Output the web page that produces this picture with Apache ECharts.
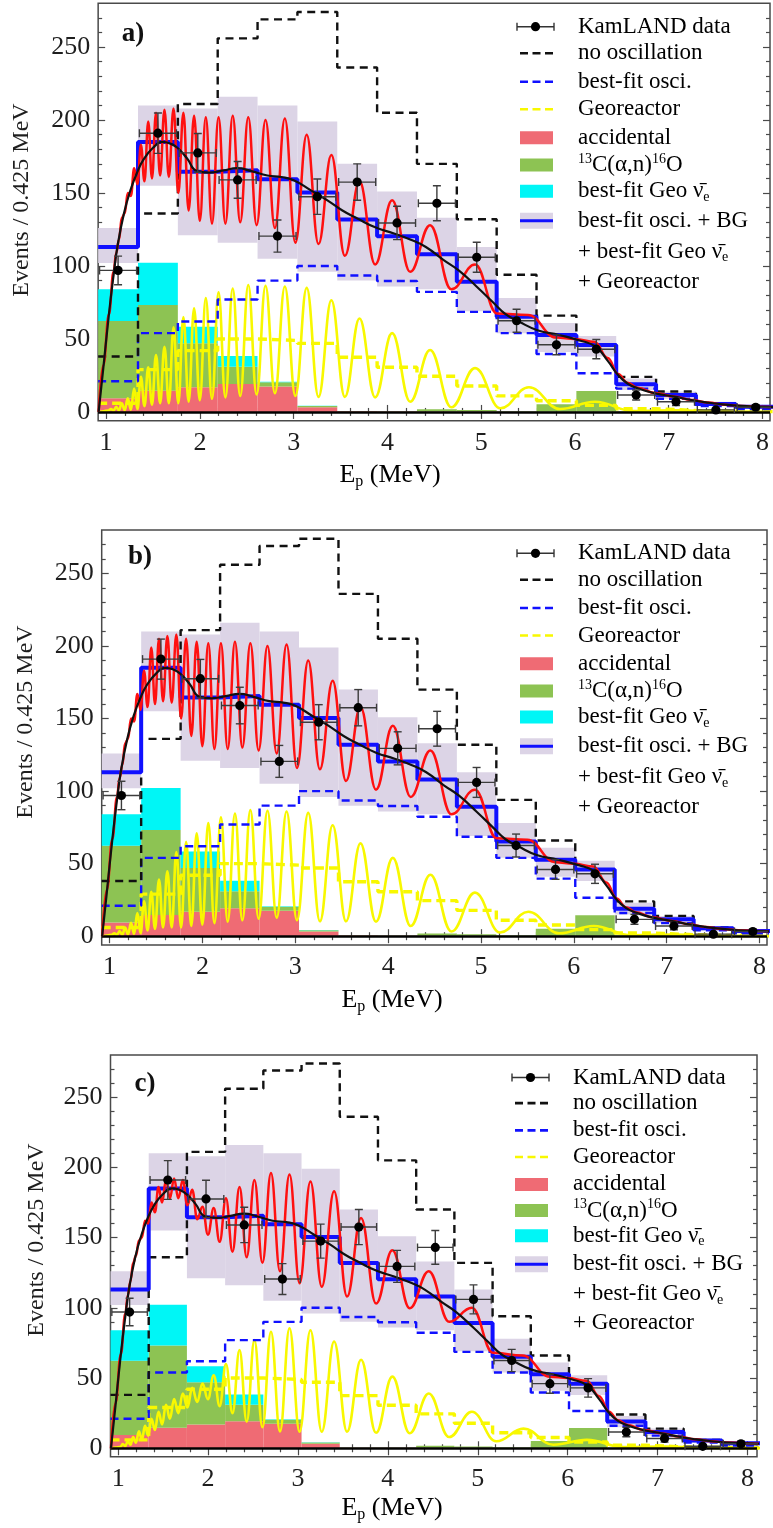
<!DOCTYPE html>
<html><head><meta charset="utf-8">
<script src="https://cdn.jsdelivr.net/npm/echarts@6/dist/echarts.min.js"></script>
<style>html,body{margin:0;padding:0;background:#fff}#c{width:773px;height:1528px}</style>
</head><body><div id="c"></div>
<script>
// ---------------- data ----------------
const binEdges = [0.915,1.34,1.765,2.19,2.615,3.04,3.465,3.89,4.315,4.74,5.165,5.59,6.015,6.44,6.865,7.29,7.715,8.14];
const dataE      = [1.1275,1.5525,1.9775,2.4025,2.8275,3.2525,3.6775,4.1025,4.5275,4.9525,5.3775,5.8025,6.2275,6.6525,7.0775,7.5025,7.9275];
const dataCounts = [97,191,177.5,159,120.5,147.5,157.5,129.5,143,106,62.5,46,43,11.6,7,1.4,3.2];
const dataErr    = [9.8,13.8,13.3,12.6,11,12.1,12.5,11.4,12,10.3,7.9,6.8,6.6,3.4,2.6,1.2,1.8];
const noOsc          = [38,136,211,256,269,274,236,205,170,132,94,66,46,24,14,6,3];
const bestFitOsc     = [21,54,62,77,90,100,93.5,89.7,82.3,68.6,54,39.7,26.5,16,9,4,2];
const totalFit       = [113,185,164.5,165.6,159.5,150.4,131.9,120.4,108.1,89.2,65.2,52.7,45.9,19,11.6,5.5,3.6];
const georeactorStep = [6,29,42,50,49,47,37.5,30.6,24.5,17.8,11,7.7,4.5,2.2,1,0.5,0.3];
const accidental = [9.4,14.6,16.9,19.2,17.5,3.2,0.4,0.3,0.3,0.3,0.2,0.2,0.2,0.1,0,0,0];
const c13an      = [52.9,58.6,30.1,11.8,2.8,0.9,0.2,0.2,1.5,1.0,0.3,5,14.2,0.3,0,0,0];
const geoNu      = [21.7,29,11.4,7.3,0.4,0.1,0,0,0,0,0,0,0,0,0,0,0];
const bandLow  = [102,155,121,116,105,96,90,86,84,69,54,41,38,15,9,4,2];
const bandHigh = [126,210,208,216,210,199,170,151,133,113,78,61,52,23,14,7,4.5];
const blackCurve = [[0.92,0],[0.97,30],[1.03,67],[1.08,94],[1.12,113],[1.19,136],[1.26,152],[1.33,164],[1.4,173],[1.5,181],[1.6,185],[1.68,184],[1.76,181],[1.86,174],[1.97,165],[2.1,164],[2.25,165.5],[2.4,167],[2.55,165],[2.72,162],[2.87,161],[3.0,158.8],[3.18,152],[3.36,145],[3.52,138],[3.68,132.5],[3.87,126.5],[4.07,122.3],[4.25,118],[4.41,113],[4.6,104],[4.76,97],[4.95,86],[5.12,75.5],[5.26,67],[5.4,62],[5.6,56],[5.83,52.7],[6.05,49],[6.22,44.7],[6.35,35],[6.46,25.3],[6.56,19.5],[6.67,16.2],[6.85,12.8],[7.06,10.5],[7.24,8.2],[7.42,6.4],[7.6,5],[7.77,4.1],[7.95,3.6],[8.14,3.2]];
const redA = [[0.92,0],[0.97,32],[1.03,67],[1.079,96],[1.108,109],[1.137,118],[1.167,133],[1.198,136],[1.231,150],[1.264,148],[1.299,167],[1.334,156],[1.371,183],[1.409,158],[1.449,199],[1.489,160],[1.532,205],[1.576,162],[1.622,207],[1.669,161],[1.719,208],[1.770,150],[1.824,205],[1.880,138],[1.938,203],[1.999,131],[2.063,202],[2.129,129],[2.199,202],[2.272,129],[2.350,203],[2.430,130],[2.516,202],[2.605,128],[2.700,200],[2.800,126],[2.906,201],[3.018,116],[3.139,190],[3.265,115],[3.402,176],[3.546,107],[3.702,158],[3.869,101],[4.050,145],[4.243,96],[4.455,128],[4.682,84],[4.934,101],[5.170,67.5],[5.500,66.5],[5.800,51],[6.000,50],[6.210,48],[6.350,37],[6.460,26],[6.560,20],[6.670,16.5],[6.850,13],[7.060,10.5],[7.240,8.2],[7.420,6.4],[7.600,5],[7.770,4.1],[7.950,3.6],[8.140,3.2]];
const yellowA = [[0.93,0],[0.973,0.5],[1.025,1],[1.051,2],[1.079,1],[1.108,3.5],[1.137,1],[1.167,6],[1.198,1.2],[1.231,9.3],[1.264,1.5],[1.299,16],[1.334,2],[1.371,24],[1.409,4],[1.449,30.6],[1.489,5],[1.532,39],[1.576,6],[1.622,44.7],[1.669,6],[1.719,58],[1.770,6],[1.824,65],[1.880,7],[1.938,71],[1.999,8],[2.063,78],[2.129,9],[2.199,82],[2.272,10],[2.350,84.6],[2.430,11],[2.516,87],[2.605,12],[2.700,86.5],[2.800,12.8],[2.906,86],[3.018,11],[3.139,85],[3.265,10.3],[3.402,76.5],[3.546,10.3],[3.702,64],[3.869,10],[4.050,54],[4.243,7],[4.455,42.4],[4.682,3.2],[4.934,30],[5.206,2.5],[5.509,16.9],[5.840,2],[6.213,7],[6.624,0.6],[7.093,1.2],[7.6,0.2],[8.14,0.1]];
const redB = redA;       // panel b reads the same as panel a
const yellowB = yellowA;
const redC = [[0.92,0],[0.97,32],[1.03,67],[1.079,96],[1.108,109],[1.137,119],[1.167,132],[1.198,137],[1.231,148],[1.264,150],[1.299,162],[1.334,160],[1.371,175],[1.409,168],[1.449,186],[1.489,175],[1.532,191],[1.576,178],[1.622,192],[1.669,178],[1.719,191],[1.770,173],[1.824,184],[1.880,163],[1.938,172],[1.999,152],[2.063,171],[2.129,147],[2.199,178],[2.272,140],[2.350,186],[2.430,136],[2.516,191],[2.605,132],[2.700,196],[2.800,126],[2.906,195],[3.018,117.5],[3.139,190],[3.265,115],[3.402,183],[3.546,108],[3.702,164],[3.869,103],[4.050,141],[4.243,99.7],[4.455,126],[4.682,90],[4.934,100],[5.170,68],[5.500,66],[5.800,51],[6.000,50],[6.210,48],[6.350,37],[6.460,26],[6.560,20],[6.670,16.5],[6.850,13],[7.060,10.5],[7.240,8.2],[7.420,6.4],[7.600,5],[7.770,4.1],[7.950,3.6],[8.140,3.2]];
const yellowC = [[0.93,0],[0.973,0.5],[1.025,1],[1.051,3],[1.079,1.5],[1.108,5],[1.137,2.5],[1.167,8],[1.198,4],[1.231,12],[1.264,6],[1.299,16],[1.334,9],[1.371,21],[1.409,13],[1.449,26],[1.489,17],[1.532,31],[1.576,21],[1.622,35],[1.669,25],[1.719,39],[1.770,29],[1.824,43],[1.880,33],[1.938,46],[1.999,35],[2.063,52],[2.129,30],[2.199,60],[2.272,25],[2.350,70],[2.430,19],[2.516,77],[2.605,15],[2.700,83],[2.800,12],[2.906,85.5],[3.018,11.8],[3.139,84],[3.265,11.8],[3.402,76],[3.546,11.8],[3.702,63],[3.869,11],[4.050,51],[4.243,10.7],[4.455,39],[4.682,8],[4.934,26],[5.206,5],[5.509,14],[5.840,2.5],[6.213,6],[6.624,0.8],[7.093,1.2],[7.6,0.3],[8.14,0.1]];
const xMajorTicks = [1,2,3,4,5,6,7,8];
const xMinorTicks = [1.2,1.4,1.6,1.8,2.2,2.4,2.6,2.8,3.2,3.4,3.6,3.8,4.2,4.4,4.6,4.8,5.2,5.4,5.6,5.8,6.2,6.4,6.6,6.8,7.2,7.4,7.6,7.8];
const yMajorTicks = [0,50,100,150,200,250];
const yMinorTicks = [10,20,30,40,60,70,80,90,110,120,130,140,160,170,180,190,210,220,230,240,260,270];
const legendLabels = ['KamLAND data','no oscillation','best-fit osci.','Georeactor','accidental',
  '{sup|13}{t|C(α,n)}{sup|16}{t|O}','{t|best-fit Geo ν\u0304}{sub|e}','best-fit osci. + BG',
  '{t|+ best-fit Geo ν\u0304}{sub|e}','+ Georeactor'];
const panelLabels = ['a)','b)','c)'];

// ---------------- layout & style ----------------
const FONT = '"Liberation Serif","DejaVu Serif",serif';
const TXT = '#1e1e1e';
const COL = {band:'#dcd4e6', acc:'#ef6b74', c13:'#8dc353', geo:'#00f6f6', blue:'#1010ff', red:'#ff1010', yellow:'#f8f800', black:'#111'};
const panels = [
  {left:98.15, top:3.3,  width:671.85, height:417.4, xMax:8.08,  red:redA, yellow:yellowA, lab:[133,34.5], xname:[390,475], yname:[22,200],  legDx:0,  legS:1},
  {left:101.7, top:530,  width:665.3,  height:414.9, xMax:8.08,  red:redB, yellow:yellowB, lab:[140,557.5], xname:[392,1000], yname:[26,722], legDx:0,  legS:0.995},
  {left:110.5, top:1055, width:646.5,  height:401.7, xMax:8.106, red:redC, yellow:yellowC, lab:[145,1084], xname:[392,1508], yname:[37,1240], legDx:-5, legS:0.962}
];
const legendRowsA = [26.7,53.3,81.7,109.3,137.8,165,191.2,220.7,251.7,281.7];

const option = {animation:false, backgroundColor:'#fff', grid:[], xAxis:[], yAxis:[], series:[], graphic:[]};

function stepData(vals){ return binEdges.map((e,i)=>[e, vals[Math.min(i, vals.length-1)]]); }
function rectData(lo, hi){ return lo.map((l,i)=>[binEdges[i], binEdges[i+1], l, hi[i]]); }
function rectSeries(gi, data, color, z){
  return {type:'custom', xAxisIndex:gi*4, yAxisIndex:gi*4, z, clip:true, silent:true,
    renderItem:(params, api)=>{
      const p0 = api.coord([api.value(0), api.value(3)]);
      const p1 = api.coord([api.value(1), api.value(2)]);
      return {type:'rect', shape:{x:p0[0], y:p0[1], width:p1[0]-p0[0], height:p1[1]-p0[1]}, style:{fill:color}};
    }, data};
}
function lineSeries(gi, data, color, width, dash, z, extra){
  return Object.assign({type:'line', xAxisIndex:gi*4, yAxisIndex:gi*4, z, data, symbol:'none', silent:true,
    lineStyle:{color, width, type: dash ? dash : 'solid', cap:'butt'}}, extra||{});
}

panels.forEach((p, gi)=>{
  option.grid.push({left:p.left, top:p.top, width:p.width, height:p.height, show:true, borderColor:'#4a4a4a', borderWidth:1.5, backgroundColor:'rgba(0,0,0,0)'});
  const xb = {type:'value', gridIndex:gi, min:0.915, max:p.xMax, splitLine:{show:false}, axisLine:{show:false}};
  const yb = {type:'value', gridIndex:gi, min:-6, max:280, splitLine:{show:false}, axisLine:{show:false}};
  const tk = (vals, len)=>({show:true, inside:true, length:len, customValues:vals, lineStyle:{color:'#4a4a4a', width:1.2}});
  option.xAxis.push(Object.assign({}, xb, {position:'bottom', axisTick:tk(xMajorTicks,7), axisLabel:{customValues:xMajorTicks, margin:9, fontSize:26, fontFamily:FONT, color:TXT}}));
  option.xAxis.push(Object.assign({}, xb, {position:'bottom', axisTick:tk(xMinorTicks,4), axisLabel:{show:false}}));
  option.xAxis.push(Object.assign({}, xb, {position:'top', axisTick:tk(xMajorTicks,7), axisLabel:{show:false}}));
  option.xAxis.push(Object.assign({}, xb, {position:'top', axisTick:tk(xMinorTicks,4), axisLabel:{show:false}}));
  option.yAxis.push(Object.assign({}, yb, {position:'left', axisTick:tk(yMajorTicks,7), axisLabel:{customValues:yMajorTicks, margin:8, fontSize:26, fontFamily:FONT, color:TXT}}));
  option.yAxis.push(Object.assign({}, yb, {position:'left', axisTick:tk(yMinorTicks,4), axisLabel:{show:false}}));
  option.yAxis.push(Object.assign({}, yb, {position:'right', axisTick:tk(yMajorTicks,7), axisLabel:{show:false}}));
  option.yAxis.push(Object.assign({}, yb, {position:'right', axisTick:tk(yMinorTicks,4), axisLabel:{show:false}}));

  const s1 = accidental.map((v,i)=>v+c13an[i]);
  const s2 = s1.map((v,i)=>v+geoNu[i]);
  option.series.push(rectSeries(gi, rectData(bandLow, bandHigh), COL.band, 1));
  option.series.push(rectSeries(gi, rectData(accidental.map(()=>0), accidental), COL.acc, 2));
  option.series.push(rectSeries(gi, rectData(accidental, s1), COL.c13, 2));
  option.series.push(rectSeries(gi, rectData(s1, s2), COL.geo, 2));
  option.series.push(lineSeries(gi, p.yellow, COL.yellow, 2.6, null, 3, {smooth:0.42, smoothMonotone:'x'}));
  option.series.push(lineSeries(gi, stepData(georeactorStep), COL.yellow, 3.4, [9,5], 4, {step:'end'}));
  option.series.push(lineSeries(gi, stepData(bestFitOsc), COL.blue, 2.4, [8,5], 5, {step:'end'}));
  option.series.push(lineSeries(gi, stepData(noOsc), COL.black, 2.4, [8,5.5], 6, {step:'end'}));
  option.series.push(lineSeries(gi, stepData(totalFit), COL.blue, 4, null, 7, {step:'end'}));
  option.series.push(lineSeries(gi, p.red, COL.red, 2.5, null, 8, {smooth:0.42, smoothMonotone:'x'}));
  option.series.push(lineSeries(gi, blackCurve, COL.black, 2.2, null, 9, {smooth:0.5,
    markLine:{silent:true, symbol:'none', label:{show:false}, lineStyle:{color:'#000', width:2.6, type:'solid'}, data:[{yAxis:0}]}}));
  option.series.push({type:'custom', xAxisIndex:gi*4, yAxisIndex:gi*4, z:10, clip:true, silent:true,
    data: dataE.map((e,i)=>[e, dataCounts[i], dataErr[i], (binEdges[i+1]-binEdges[i])/2*0.93]),
    renderItem:(params, api)=>{
      const x=api.value(0), y=api.value(1), er=api.value(2), hw=api.value(3);
      const c=api.coord([x,y]), t=api.coord([x,y+er]), b=api.coord([x,y-er]);
      const l=api.coord([x-hw,y]), r=api.coord([x+hw,y]);
      const st={stroke:'#3c3c3c', lineWidth:1.4}; const cap=4;
      return {type:'group', children:[
        {type:'line', shape:{x1:t[0],y1:t[1],x2:b[0],y2:b[1]}, style:st},
        {type:'line', shape:{x1:t[0]-cap,y1:t[1],x2:t[0]+cap,y2:t[1]}, style:st},
        {type:'line', shape:{x1:b[0]-cap,y1:b[1],x2:b[0]+cap,y2:b[1]}, style:st},
        {type:'line', shape:{x1:l[0],y1:l[1],x2:r[0],y2:r[1]}, style:st},
        {type:'line', shape:{x1:l[0],y1:l[1]-cap,x2:l[0],y2:l[1]+cap}, style:st},
        {type:'line', shape:{x1:r[0],y1:r[1]-cap,x2:r[0],y2:r[1]+cap}, style:st},
        {type:'circle', shape:{cx:c[0], cy:c[1], r:4.6}, style:{fill:'#000'}}
      ]};
    }});

  option.graphic.push({type:'text', x:p.lab[0], y:p.lab[1], z:100, style:{text:panelLabels[gi], font:'bold 27px '+FONT, fill:'#111', align:'center', verticalAlign:'middle'}});
  option.graphic.push({type:'text', x:p.xname[0], y:p.xname[1], z:100, style:{text:'{t|E}{s|p}{t| (MeV)}', align:'center', verticalAlign:'middle',
    rich:{t:{fontSize:26, fontFamily:FONT, color:TXT, lineHeight:30}, s:{fontSize:16, fontFamily:FONT, color:TXT, lineHeight:16, verticalAlign:'bottom'}}}});
  option.graphic.push({type:'text', x:p.yname[0], y:p.yname[1], rotation:Math.PI/2, z:100, style:{text:'Events / 0.425 MeV', font:'24px '+FONT, fill:TXT, align:'center', verticalAlign:'middle'}});

  const X0 = 518+p.legDx, X1 = 553+p.legDx, TX = 578+p.legDx, XM=(X0+X1)/2;
  const ry = legendRowsA.map(y=>p.top + (y-3.3)*p.legS);
  const G = option.graphic;
  const st = {stroke:'#333', lineWidth:1.4};
  G.push({type:'line', z:100, shape:{x1:X0-1,y1:ry[0],x2:X1+1,y2:ry[0]}, style:st});
  G.push({type:'line', z:100, shape:{x1:X0-1,y1:ry[0]-4,x2:X0-1,y2:ry[0]+4}, style:st});
  G.push({type:'line', z:100, shape:{x1:X1+1,y1:ry[0]-4,x2:X1+1,y2:ry[0]+4}, style:st});
  G.push({type:'circle', z:100, shape:{cx:XM, cy:ry[0], r:4.6}, style:{fill:'#000'}});
  [[1,COL.black],[2,COL.blue],[3,COL.yellow]].forEach(([k,c])=>{
    G.push({type:'line', z:100, shape:{x1:X0+2,y1:ry[k],x2:X1,y2:ry[k]}, style:{stroke:c, lineWidth:2.6, lineDash:[8,4.5]}});
  });
  [[4,COL.acc],[5,COL.c13],[6,COL.geo]].forEach(([k,c])=>{
    G.push({type:'rect', z:100, shape:{x:X0+2,y:ry[k]-6.5,width:X1-X0-2,height:13}, style:{fill:c}});
  });
  G.push({type:'rect', z:100, shape:{x:X0+2,y:ry[7]-8,width:X1-X0-2,height:16}, style:{fill:COL.band}});
  G.push({type:'line', z:101, shape:{x1:X0+2,y1:ry[7],x2:X1,y2:ry[7]}, style:{stroke:COL.blue, lineWidth:3}});
  legendLabels.forEach((lab,k)=>{
    G.push({type:'text', z:100, x:TX, y:ry[k], style:{text: lab.indexOf('{')>=0 ? lab : '{t|'+lab+'}', align:'left', verticalAlign:'middle',
      rich:{t:{fontSize:23, fontFamily:FONT, color:TXT, lineHeight:26},
            sup:{fontSize:14, fontFamily:FONT, color:TXT, lineHeight:14, verticalAlign:'top'},
            sub:{fontSize:14, fontFamily:FONT, color:TXT, lineHeight:14, verticalAlign:'bottom'}}}});
  });
});

const chart = echarts.init(document.getElementById('c'), null, {renderer:'canvas', width:773, height:1528});
chart.setOption(option);
</script>
</body></html>
